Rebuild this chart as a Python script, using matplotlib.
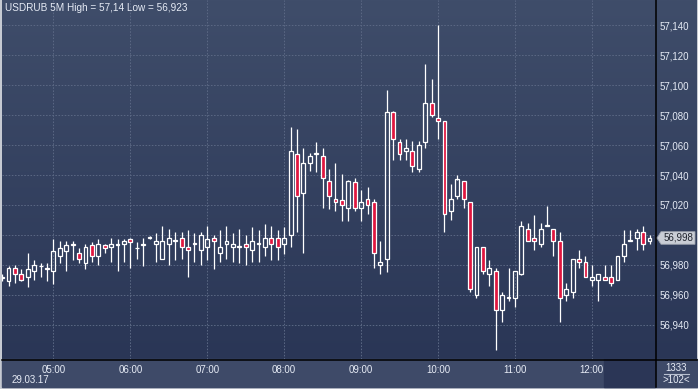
import numpy as np
import pandas as pd
import matplotlib
matplotlib.use("Agg")
import matplotlib.pyplot as plt
from matplotlib import transforms
from matplotlib.patches import Polygon, Rectangle

plt.rcParams['font.family'] = ['Liberation Sans', 'DejaVu Sans']

############################################################################################
#############################               DATA             ###############################
############################################################################################
# USDRUB 5 minute candles, 29.03.17, first candle 04:20
opens = [56.971, 56.969, 56.978, 56.974, 56.972, 56.976, 56.979, 56.978, 56.976, 56.986,
         56.989, 56.994, 56.988, 56.981, 56.993, 56.986, 56.993, 56.992, 56.993, 56.994,
         56.997, 56.991, 56.993, 56.998, 56.994, 56.984, 56.994, 56.996, 56.998, 56.992,
         56.994, 56.990, 56.992, 56.998, 56.988, 56.994, 56.992, 56.992, 56.994, 56.990,
         56.994, 56.992, 56.998, 56.998, 56.994, 57.000, 57.054, 57.028, 57.048, 57.054,
         57.053, 57.036, 57.024, 57.023, 57.018, 57.035, 57.018, 57.024, 57.022, 56.980,
         56.984, 57.082, 57.062, 57.056, 57.056, 57.044, 57.062, 57.088, 57.078, 57.076,
         57.016, 57.026, 57.036, 57.022, 56.960, 56.992, 56.974, 56.976, 56.950, 56.958,
         56.958, 56.974, 57.004, 56.998, 56.994, 57.006, 57.004, 56.996, 56.960, 56.962,
         56.984, 56.982, 56.970, 56.970, 56.972, 56.972, 56.970, 56.986, 56.996, 56.998,
         57.002, 56.996]
highs = [56.974, 56.979, 56.980, 56.977, 56.988, 56.983, 56.981, 56.981, 56.997, 56.996,
         56.996, 56.996, 56.991, 56.994, 56.995, 56.997, 56.994, 56.998, 56.997, 56.997,
         56.998, 56.995, 56.998, 56.999, 57.001, 57.006, 57.004, 57.002, 57.002, 57.003,
         57.001, 57.002, 57.006, 57.000, 57.003, 57.006, 57.001, 57.004, 57.000, 57.005,
         57.003, 57.007, 57.006, 57.003, 57.005, 57.072, 57.071, 57.058, 57.055, 57.062,
         57.058, 57.044, 57.048, 57.041, 57.037, 57.038, 57.030, 57.032, 57.024, 56.996,
         57.097, 57.083, 57.064, 57.064, 57.063, 57.063, 57.114, 57.104, 57.140, 57.076,
         57.034, 57.040, 57.036, 57.022, 56.992, 56.992, 56.983, 56.978, 56.962, 56.978,
         56.976, 57.009, 57.008, 57.013, 57.008, 57.019, 57.004, 57.002, 56.968, 56.984,
         56.990, 56.986, 56.980, 56.974, 56.980, 56.980, 56.986, 57.003, 57.003, 57.004,
         57.006, 57.000]
lows = [56.969, 56.966, 56.968, 56.969, 56.965, 56.970, 56.972, 56.969, 56.967, 56.981,
        56.976, 56.983, 56.981, 56.977, 56.982, 56.980, 56.988, 56.982, 56.976, 56.982,
        56.978, 56.984, 56.979, 56.997, 56.982, 56.984, 56.980, 56.983, 56.984, 56.972,
        56.982, 56.980, 56.983, 56.977, 56.982, 56.984, 56.982, 56.981, 56.980, 56.982,
        56.982, 56.986, 56.983, 56.983, 56.987, 56.992, 57.002, 56.988, 57.043, 57.042,
        57.018, 57.017, 57.016, 57.009, 57.009, 57.016, 57.009, 57.014, 56.978, 56.974,
        56.975, 57.050, 57.050, 57.050, 57.042, 57.042, 57.058, 57.079, 57.064, 57.002,
        57.010, 57.024, 57.018, 56.962, 56.958, 56.974, 56.966, 56.923, 56.942, 56.956,
        56.952, 56.973, 56.996, 56.990, 56.992, 57.006, 56.986, 56.942, 56.956, 56.958,
        56.978, 56.972, 56.966, 56.956, 56.970, 56.966, 56.970, 56.982, 56.996, 56.990,
        56.990, 56.994]
closes = [56.972, 56.978, 56.974, 56.970, 56.977, 56.980, 56.979, 56.977, 56.989, 56.991,
          56.993, 56.993, 56.984, 56.992, 56.986, 56.994, 56.991, 56.994, 56.994, 56.996,
          56.995, 56.991, 56.994, 56.998, 56.996, 56.996, 56.998, 56.996, 56.992, 56.990,
          56.994, 57.000, 56.997, 56.996, 56.992, 56.996, 56.994, 56.992, 56.992, 56.996,
          56.994, 56.998, 56.994, 56.992, 56.998, 57.056, 57.026, 57.048, 57.053, 57.054,
          57.038, 57.026, 57.022, 57.020, 57.036, 57.018, 57.022, 57.020, 56.988, 56.982,
          57.082, 57.064, 57.054, 57.058, 57.046, 57.060, 57.088, 57.080, 57.076, 57.014,
          57.024, 57.037, 57.024, 56.964, 56.992, 56.976, 56.978, 56.950, 56.960, 56.958,
          56.976, 57.006, 56.996, 56.996, 57.004, 57.006, 56.996, 56.958, 56.964, 56.984,
          56.982, 56.972, 56.972, 56.974, 56.970, 56.968, 56.986, 56.994, 56.996, 57.002,
          56.994, 56.998]
times = pd.date_range("2017-03-29 04:20", periods=len(opens), freq="5min")
price_levels = [56.94, 56.96, 56.98, 57.00, 57.02, 57.04, 57.06, 57.08, 57.10, 57.12, 57.14]
title = "USDRUB 5M High = 57,14 Low = 56,923"
date_label = "29.03.17"
bar_count = "1333"
visible_count = ">102<"

############################################################################################
#############################            PLOTTING            ###############################
############################################################################################
W, H = 698, 389
fig = plt.figure(figsize=(W / 100, H / 100), dpi=100, facecolor='#c6cad2')

# background in pixel coordinates
bg = fig.add_axes([0, 0, 1, 1])
bg.set_xlim(0, W)
bg.set_ylim(H, 0)
bg.axis('off')
grad = np.linspace(0, 1, 256)[:, None]
top_c = np.array([63, 77, 106]) / 255
bot_c = np.array([42, 54, 86]) / 255
img = top_c[None, None, :] * (1 - grad[:, :, None]) + bot_c[None, None, :] * grad[:, :, None]
bg.imshow(img, extent=(2, 697, 359, 0), aspect='auto', interpolation='bilinear', zorder=0)
bg.add_patch(Rectangle((2, 359), 695, 28, color='#3e4a68', zorder=1))
bg.add_patch(Rectangle((604, 359), 51, 28, color='#2b3656', zorder=2))
bg.plot([655.5, 655.5], [0, 387], color='black', lw=1.1, zorder=3)
bg.plot([2, 697], [359.5, 359.5], color='black', lw=1.1, zorder=3)
bg.text(12, 380, date_label, color='#e6ebf5', fontsize=7, va='center', ha='left')
bg.text(676, 368, bar_count, color='#e6ebf5', fontsize=7, va='center', ha='center')
bg.plot([664, 689], [374, 374], color='#b8c0d0', lw=0.8)
bg.text(676, 380, visible_count, color='#e6ebf5', fontsize=7, va='center', ha='center')

# main price axes
ax = fig.add_axes([2 / W, 1 - 359 / H, 653 / W, 359 / H])
ax.set_facecolor('none')
x = np.arange(len(opens))
o = np.array(opens)
h = np.array(highs)
l = np.array(lows)
c = np.array(closes)

ax.set_xlim(-0.02, len(x) - 0.15)
ax.set_ylim(56.9173, 57.1567)

for s in ax.spines.values():
    s.set_visible(False)

hour_idx = [i for i, t in enumerate(times) if t.minute == 0]
ax.set_xticks(hour_idx)
ax.set_xticklabels([times[i].strftime("%H:%M") for i in hour_idx])
last = closes[-1]
ax.set_yticks(price_levels)
# the level under the last price tag is hidden by the tag
ax.set_yticklabels(["" if abs(v - last) < 0.005 else f"{v:.3f}".replace('.', ',')
                    for v in price_levels])
ax.yaxis.tick_right()
ax.tick_params(axis='both', length=0, labelsize=7, colors='#e6ebf5')
ax.tick_params(axis='x', pad=4)
ax.tick_params(axis='y', pad=3)
ax.grid(True, color='#5b6884', lw=0.7, linestyle=(0, (1.6, 1.6)))
ax.set_axisbelow(True)

# candles
up = c >= o
body_lo = np.minimum(o, c)
body_hi = np.maximum(o, c)
ax.vlines(x, body_hi, h, color='white', lw=0.9, zorder=3)
ax.vlines(x, l, body_lo, color='white', lw=0.9, zorder=3)
heights = np.maximum(body_hi - body_lo, 0.0005)
ax.bar(x[up], heights[up], bottom=body_lo[up], width=0.6, facecolor='none',
       edgecolor='white', linewidth=0.9, zorder=4)
ax.bar(x[~up], heights[~up], bottom=body_lo[~up], width=0.6, facecolor='#e0163f',
       edgecolor='white', linewidth=0.9, zorder=4)

ax.text(3 / 653, 1 - 8 / 359, title, transform=ax.transAxes, color='#e6ebf5',
        fontsize=7.2, va='center', ha='left')

# last price tag
tr = transforms.blended_transform_factory(ax.transAxes, ax.transData)
x0 = 1 + 2 / 653
x1 = 1 + 6 / 653
x2 = 1 + 40 / 653
d = 0.0042
tag = Polygon([[x0, last], [x1, last + d], [x2, last + d], [x2, last - d], [x1, last - d]],
              closed=True, transform=tr, facecolor='#c9cdd5', edgecolor='#9aa0ac',
              lw=0.6, clip_on=False, zorder=10)
ax.add_patch(tag)
ax.text(1 + 23 / 653, last, f"{last:.3f}".replace('.', ','), transform=tr, color='#20242e',
        fontsize=7, va='center', ha='center', clip_on=False, zorder=11)

plt.savefig('out.png', dpi=100, facecolor=fig.get_facecolor())
